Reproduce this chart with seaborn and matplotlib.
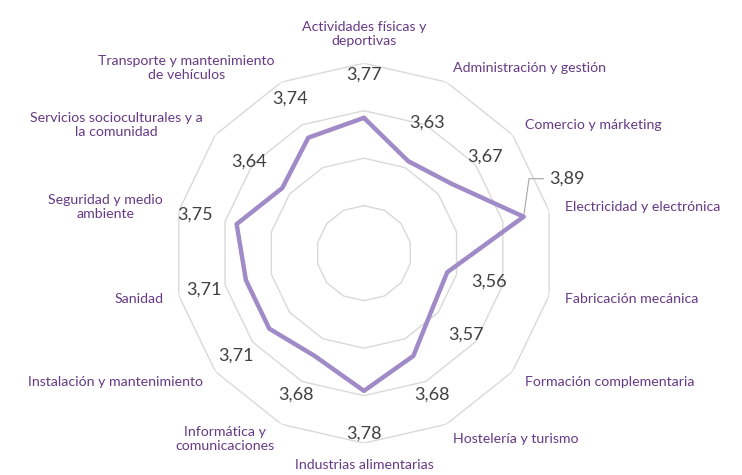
import numpy as np
import matplotlib.pyplot as plt
import seaborn as sns

categories = ["Actividades físicas y\ndeportivas", "Administración y gestión",
              "Comercio y márketing", "Electricidad y electrónica",
              "Fabricación mecánica", "Formación complementaria",
              "Hostelería y turismo", "Industrias alimentarias",
              "Informática y\ncomunicaciones", "Instalación y mantenimiento",
              "Sanidad", "Seguridad y medio\nambiente",
              "Servicios socioculturales y a\nla comunidad",
              "Transporte y mantenimiento\nde vehículos"]
values = [3.77, 3.63, 3.67, 3.89, 3.56, 3.57, 3.68, 3.78, 3.68, 3.71, 3.71, 3.75, 3.64, 3.74]
ring_levels = [3.4, 3.6, 3.8, 4.0]
r_min, r_max = 3.2, 4.0

sns.set_theme(style="white")
plt.rcParams['font.family'] = ['Lato', 'DejaVu Sans']

line_col = '#A08AC8'
label_col = '#673A85'
value_col = '#404040'
grid_col = '#D9D9D9'

n = len(categories)
theta = np.arange(n) * 2 * np.pi / n
theta_c = np.append(theta, theta[0] + 2 * np.pi)
vals_c = np.append(values, values[0])

fig = plt.figure(figsize=(7.42, 4.75), dpi=100)
ax = fig.add_axes([0.2345, 0.067, 0.512, 0.8], projection='polar')
ax.set_theta_zero_location('N')
ax.set_theta_direction(-1)
ax.set_ylim(r_min, r_max)
ax.grid(False)
ax.spines['polar'].set_visible(False)
ax.set_xticks([])
ax.set_yticks([])

# polygon gridlines
for lev in ring_levels:
    ax.plot(theta_c, [lev] * (n + 1), color=grid_col, lw=1.0, zorder=1)

sns.lineplot(x=theta_c, y=vals_c, sort=False, estimator=None, ax=ax,
             color=line_col, lw=3.2, zorder=3)
ax.set_ylim(r_min, r_max)

# value labels
for t, v in zip(theta, values):
    txt = f"{v:.2f}".replace('.', ',')
    if abs(v - max(values)) < 1e-9:
        ax.annotate(txt, xy=(t, v), xytext=(26, 38), textcoords='offset pixels',
                    ha='left', va='center', fontsize=13, color=value_col,
                    arrowprops=dict(arrowstyle='-', color='#A6A6A6', lw=0.8,
                                    shrinkA=2, shrinkB=2,
                                    connectionstyle='angle,angleA=0,angleB=82,rad=0'))
    else:
        d = 43
        ax.annotate(txt, xy=(t, v), xytext=(d * np.sin(t), d * np.cos(t)),
                    textcoords='offset pixels', ha='center', va='center',
                    fontsize=13, color=value_col)

# category labels
for t, lab in zip(theta, categories):
    s, c = np.sin(t), np.cos(t)
    if abs(s) < 0.1:
        ha = 'center'
        va = 'bottom' if c > 0 else 'top'
    else:
        ha = 'left' if s > 0 else 'right'
        va = 'center'
    d = 16
    ax.annotate(lab, xy=(t, r_max), xytext=(d * s, d * c), textcoords='offset pixels',
                ha=ha, va=va, multialignment='center', fontsize=10.2, color=label_col,
                annotation_clip=False)

fig.savefig('out.png', dpi=100)
